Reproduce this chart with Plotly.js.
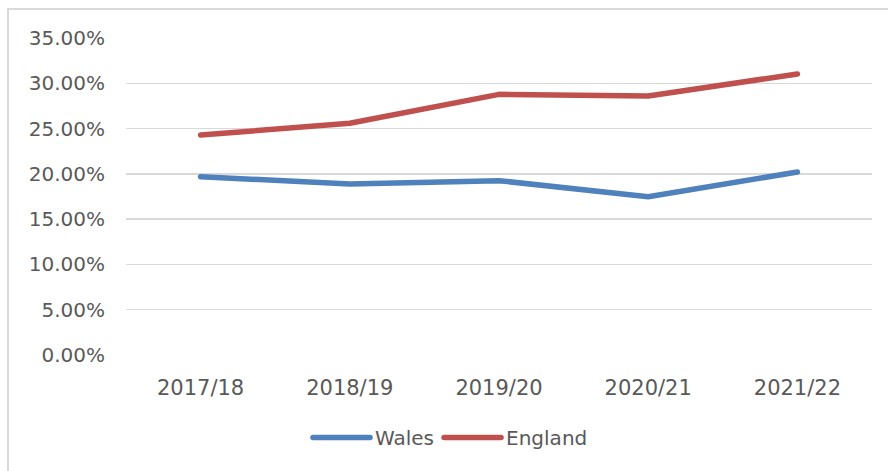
<!DOCTYPE html>
<html>
<head>
<meta charset="utf-8">
<script src="https://cdn.plot.ly/plotly-3.0.1.min.js"></script>
<style>
  html, body { margin: 0; padding: 0; background: #fff; }
  #chart { width: 888px; height: 471px; position: absolute; left: 0; top: 0; }
  #frame { position: absolute; left: 7px; top: 8px; width: 900px; height: 470px;
           border: 2px solid #d9d9d9; pointer-events: none; }
  #chart path.js-line { stroke-linecap: round; stroke-linejoin: round; }
</style>
</head>
<body>
<div id="chart"></div>
<div id="frame"></div>
<script>
const categories = ["2017/18", "2018/19", "2019/20", "2020/21", "2021/22"];
const walesValues = [0.1969, 0.1888, 0.1925, 0.1748, 0.2020];
const englandValues = [0.2429, 0.2558, 0.2878, 0.2860, 0.3103];
const yTickValues = [0, 0.05, 0.10, 0.15, 0.20, 0.25, 0.30, 0.35];

const font = { family: "DejaVu Sans, Arial, sans-serif", size: 20, color: "#595959" };
const xFont = { family: "DejaVu Sans, Arial, sans-serif", size: 21, color: "#595959" };

const traces = [
  { x: categories, y: walesValues, name: "Wales", type: "scatter", mode: "lines",
    line: { color: "#4F81BD", width: 5.5, shape: "linear" } },
  { x: categories, y: englandValues, name: "England", type: "scatter", mode: "lines",
    line: { color: "#C0504D", width: 5.5, shape: "linear" } }
];

const layout = {
  width: 888, height: 471,
  margin: { l: 126, r: 16, t: 38, b: 116 },
  paper_bgcolor: "#fff", plot_bgcolor: "#fff",
  font: font,
  showlegend: true,
  legend: { orientation: "h", x: 0.435, xanchor: "center", y: -0.26, yanchor: "middle",
            font: font, itemwidth: 57, traceorder: "normal" },
  xaxis: { type: "category", range: [-0.5, 4.5], showgrid: false, zeroline: false, showline: false,
           ticks: "", ticklabelstandoff: 18, tickfont: xFont },
  yaxis: { range: [0, 0.35], tickvals: yTickValues, tickformat: ".2%",
           showgrid: true, gridcolor: "#d9d9d9", gridwidth: 1.5,
           zeroline: false, showline: false, ticks: "", ticklabelstandoff: 20, tickfont: font }
};

Plotly.newPlot("chart", traces, layout, { displayModeBar: false, staticPlot: true }).then(function () {
  document.querySelectorAll("#chart .scatterlayer path.js-line, #chart .legendlines path").forEach(function (p) {
    p.style.strokeLinecap = "round";
    p.style.strokeLinejoin = "round";
  });
});
</script>
</body>
</html>
